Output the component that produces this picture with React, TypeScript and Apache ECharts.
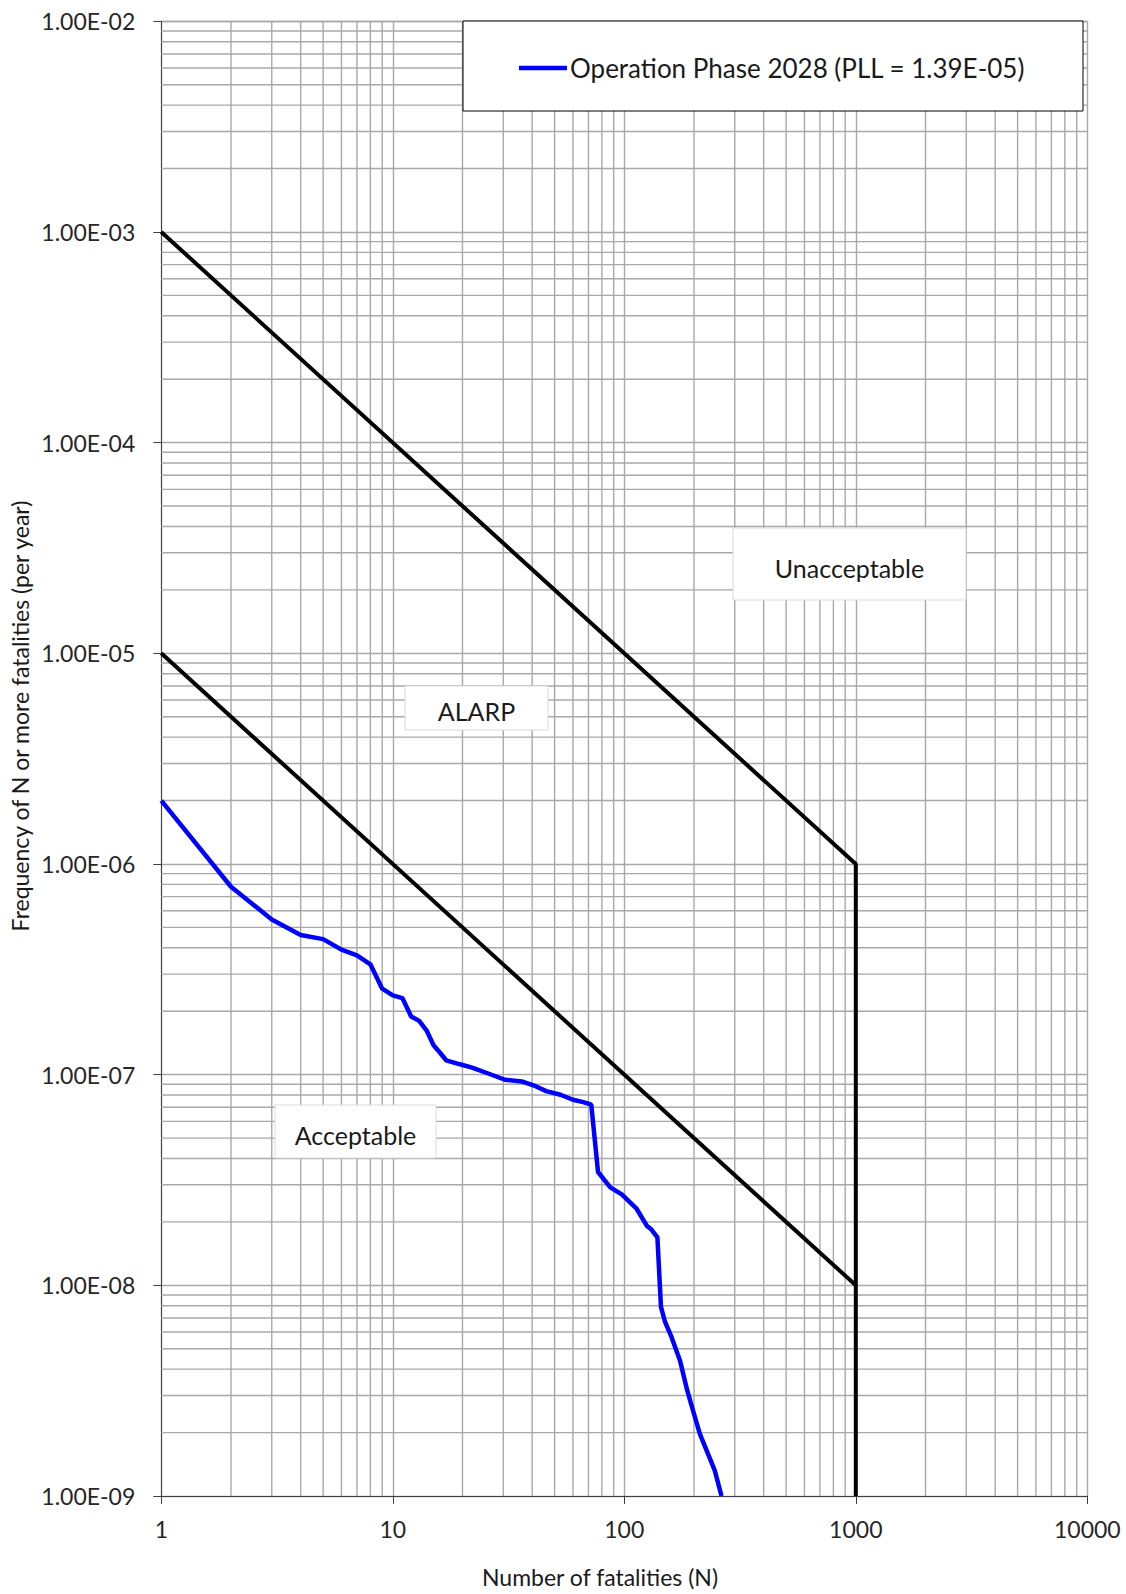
import React, { useEffect, useRef } from "react";
import * as echarts from "echarts";

const seriesName = "Operation Phase 2028 (PLL = 1.39E-05)";

const fnN = [1, 2, 3, 4, 5, 6, 7, 8, 9, 10, 11, 12, 13, 14, 15, 16, 17, 19.5, 22, 26, 30.5, 36, 40.5, 46, 53, 60, 66.5, 72, 77, 87, 97.5, 113, 125, 131, 139, 144, 150, 160, 174, 187, 198, 212, 246, 263];
const fnFreq = [2.0e-6, 7.8e-7, 5.45e-7, 4.6e-7, 4.4e-7, 3.92e-7, 3.68e-7, 3.34e-7, 2.56e-7, 2.38e-7, 2.31e-7, 1.89e-7, 1.8e-7, 1.62e-7, 1.38e-7, 1.27e-7, 1.17e-7, 1.12e-7, 1.08e-7, 1.01e-7, 9.46e-8, 9.29e-8, 8.9e-8, 8.35e-8, 8.03e-8, 7.6e-8, 7.41e-8, 7.2e-8, 3.45e-8, 2.92e-8, 2.7e-8, 2.31e-8, 1.92e-8, 1.84e-8, 1.69e-8, 7.9e-9, 6.7e-9, 5.67e-9, 4.4e-9, 3.17e-9, 2.55e-9, 1.97e-9, 1.32e-9, 1.0e-9];

const upperN = [1, 1000, 1000];
const upperFreq = [1e-3, 1e-6, 1e-9];
const lowerN = [1, 1000];
const lowerFreq = [1e-5, 1e-8];

const xMin = 1;
const xMax = 10000;
const yMin = 1e-9;
const yMax = 1e-2;

const regionLabels = ["Unacceptable", "ALARP", "Acceptable"];

const FONT = "Lato";

function fmtY(v: number): string {
  const s = v.toExponential(2).toUpperCase();
  return s.replace(/E([+-])(\d)$/, "E$10$2");
}

export default function App() {
  const ref = useRef<HTMLDivElement>(null);
  useEffect(() => {
    if (!ref.current) return;
    const chart = echarts.init(ref.current, null, { renderer: "svg" });

    const vLines: number[][] = [];
    for (let d = 0; d < 4; d++) {
      for (let k = 2; k <= 9; k++) vLines.push([k * Math.pow(10, d), yMin]);
    }
    const hLines: number[][] = [];
    for (let d = -9; d < -2; d++) {
      for (let k = 2; k <= 9; k++) hLines.push([xMin, k * Math.pow(10, d)]);
    }
    const gridColor = "#a8a8a8";
    const gridRender = (vertical: boolean) => (params: any, api: any) => {
      let p1, p2;
      if (vertical) {
        const x = api.value(0);
        p1 = api.coord([x, yMin]);
        p2 = api.coord([x, yMax]);
      } else {
        const y = api.value(1);
        p1 = api.coord([xMin, y]);
        p2 = api.coord([xMax, y]);
      }
      return {
        type: "line",
        shape: { x1: p1[0], y1: p1[1], x2: p2[0], y2: p2[1] },
        style: { stroke: gridColor, lineWidth: 1.4 },
      };
    };

    const boxes = [
      { text: regionLabels[0], x: 733, y: 528, w: 233, h: 72, dy: 4 },
      { text: regionLabels[1], x: 405, y: 686, w: 143, h: 44, dy: 3 },
      { text: regionLabels[2], x: 275, y: 1105, w: 161, h: 53, dy: 3 },
    ];

    const graphic: any[] = [
      {
        type: "rect",
        z: 3,
        shape: { x: 463, y: 21, width: 620, height: 90 },
        style: { fill: "#ffffff", stroke: "#000000", lineWidth: 1 },
      },
      ...boxes.map((b) => ({
        type: "group",
        z: 3,
        children: [
          {
            type: "rect",
            z: 3,
            shape: { x: b.x, y: b.y, width: b.w, height: b.h },
            style: { fill: "#ffffff", stroke: "#dadada", lineWidth: 1 },
          },
          {
            type: "text",
            z: 4,
            x: b.x + b.w / 2,
            y: b.y + b.h / 2 + b.dy,
            style: {
              text: b.text,
              fontFamily: FONT,
              fontSize: 25,
              fill: "#1a1a1a",
              align: "center",
              verticalAlign: "middle",
            },
          },
        ],
      })),
      {
        type: "text",
        z: 4,
        x: 20,
        y: 716,
        rotation: Math.PI / 2,
        style: {
          text: "Frequency of N or more fatalities (per year)",
          fontFamily: FONT,
          fontSize: 23,
          fill: "#1a1a1a",
          align: "center",
          verticalAlign: "middle",
        },
      },
      {
        type: "text",
        z: 4,
        x: 600,
        y: 1577,
        style: {
          text: "Number of fatalities (N)",
          fontFamily: FONT,
          fontSize: 23,
          fill: "#1a1a1a",
          align: "center",
          verticalAlign: "middle",
        },
      },
    ];

    const option: any = {
      animation: false,
      backgroundColor: "#ffffff",
      textStyle: { fontFamily: FONT },
      grid: { left: 161.3, right: 38.7, top: 21.3, bottom: 98, containLabel: false },
      legend: {
        data: [{ name: seriesName, icon: "rect" }],
        left: 519,
        top: 55,
        padding: 0,
        itemWidth: 48,
        itemHeight: 4.5,
        itemGap: 4,
        itemStyle: { color: "#0000ff" },
        textStyle: { fontFamily: FONT, fontSize: 26, color: "#1a1a1a", padding: [0, 0, 0, -2] },
        z: 5,
      },
      xAxis: {
        type: "log",
        logBase: 10,
        min: xMin,
        max: xMax,
        axisLine: { show: true, onZero: false, lineStyle: { color: "#404040", width: 1 } },
        axisTick: { show: true, length: 8, lineStyle: { color: "#404040" } },
        axisLabel: {
          fontFamily: FONT,
          fontSize: 23,
          color: "#262626",
          margin: 21,
          formatter: (v: number) => String(Math.round(v)),
        },
        splitLine: { show: true, lineStyle: { color: gridColor, width: 1.4 } },
      },
      yAxis: {
        type: "log",
        logBase: 10,
        min: yMin,
        max: yMax,
        axisLine: { show: true, onZero: false, lineStyle: { color: "#404040", width: 1 } },
        axisTick: { show: true, length: 8, lineStyle: { color: "#404040" } },
        axisLabel: {
          fontFamily: FONT,
          fontSize: 23,
          color: "#262626",
          margin: 26,
          formatter: (v: number) => fmtY(v),
        },
        splitLine: { show: true, lineStyle: { color: gridColor, width: 1.4 } },
      },
      series: [
        {
          type: "custom",
          name: "vgrid",
          silent: true,
          z: 1,
          renderItem: gridRender(true),
          data: vLines,
        },
        {
          type: "custom",
          name: "hgrid",
          silent: true,
          z: 1,
          renderItem: gridRender(false),
          data: hLines,
        },
        {
          type: "line",
          name: "upper",
          z: 5,
          symbol: "none",
          lineStyle: { color: "#000000", width: 4 },
          data: upperN.map((n, i) => [n, upperFreq[i]]),
        },
        {
          type: "line",
          name: "lower",
          z: 5,
          symbol: "none",
          lineStyle: { color: "#000000", width: 4 },
          data: lowerN.map((n, i) => [n, lowerFreq[i]]),
        },
        {
          type: "line",
          name: seriesName,
          z: 6,
          symbol: "none",
          color: "#0000ff",
          lineStyle: { color: "#0000ff", width: 4.5 },
          data: fnN.map((n, i) => [n, fnFreq[i]]),
        },
      ],
      graphic,
    };
    chart.setOption(option);
    return () => chart.dispose();
  }, []);
  return (
    <div
      ref={ref}
      style={{ position: "fixed", left: 0, top: 0, width: 1126, height: 1594, background: "#fff" }}
    />
  );
}
